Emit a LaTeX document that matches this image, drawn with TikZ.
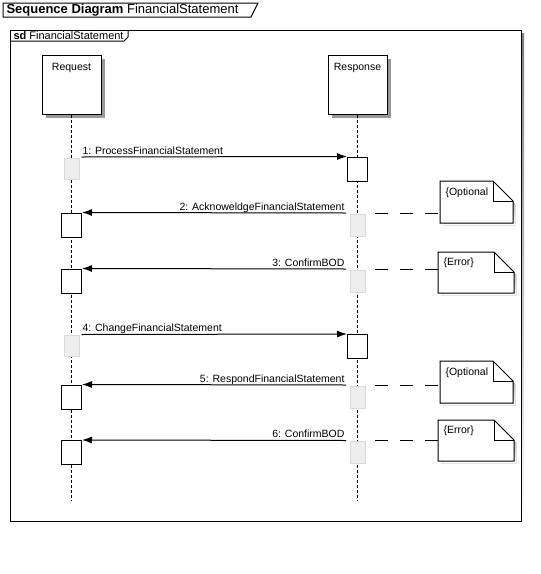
\documentclass[tikz,border=0pt]{standalone}
\usepackage{fontspec}
\setmainfont{Liberation Sans}
\usetikzlibrary{arrows.meta,shadows}
\definecolor{shade}{RGB}{153,153,153}
\definecolor{ghostfill}{RGB}{238,238,238}
\definecolor{ghostline}{RGB}{218,218,218}
\newcommand\notesheet[5]{%
  \fill[shade] (#2+3,#3+3) -- (#2+#4-17,#3+3) -- (#2+#4+3,#3+23) -- (#2+#4+3,#3+#5+3) -- (#2+3,#3+#5+3) -- cycle;
  \node[draw=none, minimum width=#4pt, minimum height=#5pt, inner sep=0pt, anchor=north west] (#1) at (#2,#3) {};
  \draw[fill=white] (#1.south west) -- (#1.north west) -- ([xshift=-20pt]#1.north east) -- ([yshift=-20pt]#1.north east) -- (#1.south east) -- cycle;
  \draw ([xshift=-20pt]#1.north east) -- ([xshift=-20pt,yshift=-20pt]#1.north east) -- ([yshift=-20pt]#1.north east);
}
\begin{document}
\begin{tikzpicture}[x=1pt,y=-1pt, line width=1pt,
  lbl/.style={font=\fontsize{10.5}{12}\selectfont, inner sep=0pt},
  head/.style={draw, fill=white, minimum width=59pt, minimum height=59pt, inner sep=0pt,
    drop shadow={shadow xshift=4pt, shadow yshift=-4pt, opacity=1, fill=shade}},
  act/.style={draw, fill=white, minimum width=20pt, minimum height=24pt, inner sep=0pt},
  ghost/.style={draw=ghostline, fill=ghostfill, minimum width=15pt, minimum height=22pt, inner sep=0pt},
  life/.style={dash pattern=on 3pt off 2pt},
  msg/.style={-{Latex[length=10pt,width=7pt]}},
  link/.style={dash pattern=on 13pt off 12pt}
]
\useasboundingbox (0,0) rectangle (541,574);

% title
\draw (3,3) -- (258,3) -- (251,17) -- (3,17) -- cycle;
\node[anchor=west, inner sep=0pt, font=\fontsize{13}{15}\selectfont] (title) at (6,10) {\textbf{Sequence Diagram} FinancialStatement};

% frame
\fill[shade] (13,33) rectangle (524,524);
\draw[fill=white] (10,30) rectangle (521,521);
\draw (10,41) -- (124,41) -- (128,37) -- (128,30);
\node[anchor=west, inner sep=0pt, font=\fontsize{11}{12}\selectfont] (sd) at (13,35.5) {\textbf{sd} FinancialStatement};

% lifeline heads
\node[head] (req) at (71.5,84.5) {};
\node[head] (res) at (357.5,84.5) {};
\node[lbl, anchor=north] (reqt) at ([yshift=-8pt]req.north) {Request};
\node[lbl, anchor=north] (rest) at ([yshift=-8pt]res.north) {Response};
\coordinate (reqend) at (71.5,501);
\coordinate (resend) at (357.5,501);
\draw[life] (req.south) -- (reqend);
\draw[life] (res.south) -- (resend);

% ghost boxes
\node[ghost, minimum height=21pt] (g1) at (71.5,168.5) {};
\node[ghost] (g2) at (357.5,225) {};
\node[ghost] (g3) at (357.5,281) {};
\node[ghost, minimum height=21pt] (g4) at (71.5,346) {};
\node[ghost] (g5) at (357.5,397) {};
\node[ghost] (g6) at (357.5,452) {};

% activation boxes
\node[act] (a1) at (357.5,169) {};
\node[act] (a2) at (71.5,225) {};
\node[act] (a3) at (71.5,281) {};
\node[act] (a4) at (357.5,346.5) {};
\node[act] (a5) at (71.5,397) {};
\node[act] (a6) at (71.5,452.5) {};

% messages
\coordinate (s1) at (81.5,157);
\coordinate (s2) at (346,213);
\coordinate (s3) at (346,269);
\coordinate (s4) at (81.5,334.5);
\coordinate (s5) at (346,385);
\coordinate (s6) at (346,440.5);
\draw[msg] (s1) -- (a1.north west);
\draw[msg] (s2) -- (a2.north east);
\draw[msg] (s3) -- (a3.north east);
\draw[msg] (s4) -- (a4.north west);
\draw[msg] (s5) -- (a5.north east);
\draw[msg] (s6) -- (a6.north east);
\node[lbl, anchor=base west] (t1) at (82,154) {1: ProcessFinancialStatement};
\node[lbl, anchor=base east] (t2) at (345,210) {2: AcknoweldgeFinancialStatement};
\node[lbl, anchor=base east] (t3) at (345,266) {3: ConfirmBOD};
\node[lbl, anchor=base west] (t4) at (82,331.5) {4: ChangeFinancialStatement};
\node[lbl, anchor=base east] (t5) at (345,382) {5: RespondFinancialStatement};
\node[lbl, anchor=base east] (t6) at (345,437.5) {6: ConfirmBOD};

% notes
\notesheet{n1}{440}{181}{72}{41}
\notesheet{n2}{438}{252}{75}{40}
\notesheet{n3}{440}{361}{72}{41}
\notesheet{n4}{438}{420}{75}{40}
\node[lbl, anchor=north west] (n1t) at ([xshift=5pt,yshift=-6pt]n1.north west) {\{Optional};
\node[lbl, anchor=north west] (n2t) at ([xshift=5pt,yshift=-5pt]n2.north west) {\{Error\}};
\node[lbl, anchor=north west] (n3t) at ([xshift=5pt,yshift=-6pt]n3.north west) {\{Optional};
\node[lbl, anchor=north west] (n4t) at ([xshift=5pt,yshift=-5pt]n4.north west) {\{Error\}};

\coordinate (l1) at (375,213);
\coordinate (l2) at (375,269);
\coordinate (l3) at (375,385);
\coordinate (l4) at (375,440.5);
\draw[link] (l1) -- (n1.west |- l1);
\draw[link] (l2) -- (n2.west |- l2);
\draw[link] (l3) -- (n3.west |- l3);
\draw[link] (l4) -- (n4.west |- l4);
\end{tikzpicture}
\end{document}
